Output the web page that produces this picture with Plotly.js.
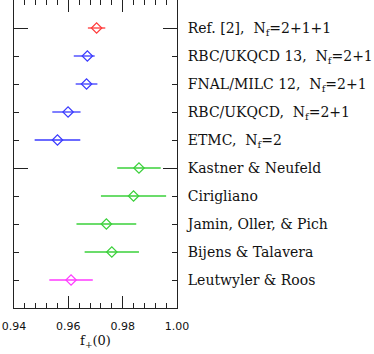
<!DOCTYPE html>
<html>
<head>
<meta charset="utf-8">
<script src="https://cdn.plot.ly/plotly-3.0.1.min.js"></script>
<style>html,body{margin:0;padding:0;background:#fff}#chart{width:374px;height:354px}</style>
</head>
<body>
<div id="chart"></div>
<script>
var labels = [
  "Ref. [2],\u00a0\u00a0N<sub>f</sub>=2+1+1",
  "RBC/UKQCD 13,\u00a0\u00a0N<sub>f</sub>=2+1",
  "FNAL/MILC 12,\u00a0\u00a0N<sub>f</sub>=2+1",
  "RBC/UKQCD,\u00a0\u00a0N<sub>f</sub>=2+1",
  "ETMC,\u00a0\u00a0N<sub>f</sub>=2",
  "Kastner &amp; Neufeld",
  "Cirigliano",
  "Jamin, Oller, &amp; Pich",
  "Bijens &amp; Talavera",
  "Leutwyler &amp; Roos"
];
var values    = [0.9704, 0.9670, 0.9667, 0.9599, 0.9560, 0.986, 0.984, 0.974, 0.976, 0.961];
var errPlus   = [0.0032, 0.0027, 0.0040, 0.0046, 0.0084, 0.008, 0.012, 0.011, 0.010, 0.008];
var errMinus  = [0.0032, 0.0050, 0.0040, 0.0058, 0.0084, 0.008, 0.012, 0.011, 0.010, 0.008];
var colors    = ["#ff3a3a", "#3a3aff", "#3a3aff", "#3a3aff", "#3a3aff", "#3ad03a", "#3ad03a", "#3ad03a", "#3ad03a", "#ff3aff"];
var rows      = [1, 2, 3, 4, 5, 6, 7, 8, 9, 10];
var groupRows = [1, 6];
var xTicks    = [0.94, 0.96, 0.98, 1.00];
var xTickText = ["0.94", "0.96", "0.98", "1.00"];

var traces = [];
for (var i = 0; i < values.length; i++) {
  traces.push({
    type: "scatter",
    mode: "markers",
    x: [values[i]],
    y: [rows[i]],
    marker: {symbol: "diamond-open", size: 8, color: colors[i], line: {width: 1.2, color: colors[i]}},
    error_x: {type: "data", symmetric: false, array: [errPlus[i]], arrayminus: [errMinus[i]],
              color: colors[i], thickness: 1.3, width: 0},
    showlegend: false,
    hoverinfo: "skip"
  });
}
traces.push({type: "scatter", mode: "markers", x: [0.97], y: [1], yaxis: "y2",
             marker: {opacity: 0}, showlegend: false, hoverinfo: "skip"});

var layout = {
  width: 374, height: 354,
  margin: {l: 14, r: 197, t: 0, b: 46},
  paper_bgcolor: "#fff", plot_bgcolor: "#fff",
  showlegend: false,
  xaxis: {
    range: [0.94, 1.00],
    tickvals: xTicks, ticktext: xTickText,
    ticks: "inside", ticklen: 12, tickwidth: 1, tickcolor: "#222",
    minor: {tick0: 0.94, dtick: 0.004, ticks: "inside", ticklen: 5, tickcolor: "#222", tickwidth: 1},
    showline: true, linecolor: "#222", linewidth: 1, mirror: "ticks",
    showgrid: false, zeroline: false,
    ticklabeloverflow: "allow",
    ticklabelstandoff: 8,
    tickfont: {family: "DejaVu Sans", size: 11, color: "#111"},
    title: {text: "f<sub>+</sub>(0)", font: {family: "DejaVu Serif", size: 13, color: "#111"}, standoff: 0}
  },
  yaxis: {
    range: [11, 0],
    tickvals: rows, ticktext: labels,
    side: "right",
    ticks: "inside", ticklen: 5, tickwidth: 1, tickcolor: "#222",
    showline: true, linecolor: "#222", linewidth: 1, mirror: "ticks",
    showgrid: false, zeroline: false,
    ticklabelstandoff: 7,
    ticklabeloverflow: "allow",
    tickfont: {family: "DejaVu Serif", size: 14, color: "#111"}
  },
  yaxis2: {
    overlaying: "y", side: "left", anchor: "x",
    range: [11, 0],
    tickvals: groupRows,
    ticks: "inside", ticklen: 14, tickwidth: 1, tickcolor: "#222",
    mirror: "ticks", showline: false,
    showticklabels: false, showgrid: false, zeroline: false
  }
};

Plotly.newPlot("chart", traces, layout, {displayModeBar: false, staticPlot: true});
</script>
</body>
</html>
